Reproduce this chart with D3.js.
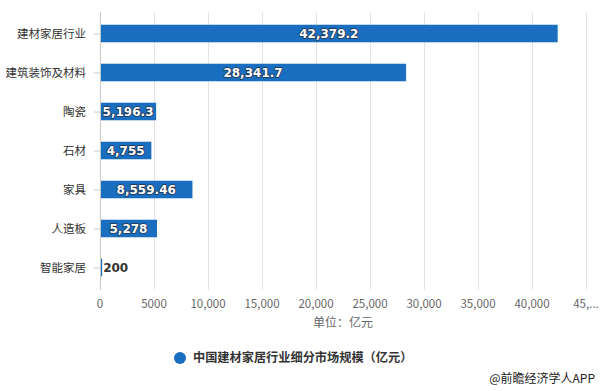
<!DOCTYPE html>
<html><head><meta charset="utf-8">
<script src="https://cdn.jsdelivr.net/npm/d3@7/dist/d3.min.js"></script>
<style>
html,body{margin:0;padding:0;background:#fff;}
svg{display:block;font-family:"Noto Sans CJK SC","Noto Sans",sans-serif;}
</style></head>
<body><svg id="c" width="600" height="391"></svg>
<script>
const categories = ["建材家居行业","建筑装饰及材料","陶瓷","石材","家具","人造板","智能家居"];
const values = [42379.2, 28341.7, 5196.3, 4755, 8559.46, 5278, 200];
const valueLabels = ["42,379.2","28,341.7","5,196.3","4,755","8,559.46","5,278","200"];
const xTicks = [0,5000,10000,15000,20000,25000,30000,35000,40000,45000];
const xTickLabels = ["0","5000","10,000","15,000","20,000","25,000","30,000","35,000","40,000","45,..."];
const seriesName = "中国建材家居行业细分市场规模（亿元）";
const unitText = "单位：亿元";
const sourceText = "@前瞻经济学人APP";

const svg = d3.select("#c");
const blue = "#1a6ebf";
const x = d3.scaleLinear().domain([0,45000]).range([100,586]);
const y = d3.scaleBand().domain(categories).range([14,287]).padding(0);
const barH = y.bandwidth()*0.45;

// gridlines
svg.append("g").selectAll("line").data(xTicks.slice(1)).join("line")
  .attr("x1",d=>x(d)+0.5).attr("x2",d=>x(d)+0.5).attr("y1",12).attr("y2",290)
  .attr("stroke","#e3e3e3").attr("stroke-width",1);

// x axis labels
svg.append("g").selectAll("text").data(xTicks).join("text")
  .attr("x",d=>x(d)).attr("y",308).attr("text-anchor","middle")
  .attr("font-size","11.5px").attr("fill","#666")
  .text((d,i)=>xTickLabels[i]);

// y axis line & ticks
svg.append("line").attr("x1",100.5).attr("x2",100.5).attr("y1",12).attr("y2",290)
  .attr("stroke","#c8c8c8");
svg.append("g").selectAll("line").data(categories).join("line")
  .attr("x1",94).attr("x2",100).attr("y1",d=>y(d)+y.bandwidth()/2+0.5).attr("y2",d=>y(d)+y.bandwidth()/2+0.5)
  .attr("stroke","#c8c8c8");
svg.append("g").selectAll("text").data(categories).join("text")
  .attr("x",86).attr("y",d=>y(d)+y.bandwidth()/2).attr("dy","0.36em")
  .attr("text-anchor","end").attr("font-size","11.5px").attr("fill","#333")
  .text(d=>d);

// bars
svg.append("g").selectAll("rect").data(values).join("rect")
  .attr("x",x(0)+1).attr("y",(d,i)=>y(categories[i])+y.bandwidth()/2-barH/2)
  .attr("width",d=>Math.max(1,x(d)-x(0)-1)).attr("height",barH).attr("fill",blue);

// data labels
svg.append("g").selectAll("text").data(values).join("text")
  .attr("y",(d,i)=>y(categories[i])+y.bandwidth()/2).attr("dy","0.36em")
  .attr("font-size","12px").attr("font-weight","bold")
  .attr("font-family","'DejaVu Sans',sans-serif")
  .attr("paint-order","stroke")
  .each(function(d,i){
    const small = x(d)-x(0) < 30;
    d3.select(this)
      .attr("x", small ? x(d)+1 : (x(0)+x(d))/2)
      .attr("text-anchor", small ? "start" : "middle")
      .attr("fill", small ? "#333" : "#fff")
      .attr("stroke", small ? "#fff" : "#22344d")
      .attr("stroke-width", small ? 2 : 1.6)
      .attr("stroke-linejoin","round")
      .text(valueLabels[i]);
  });

// unit label
svg.append("text").attr("x",343).attr("y",327).attr("text-anchor","middle")
  .attr("font-size","12px").attr("fill","#666").text(unitText);

// legend
svg.append("circle").attr("cx",180).attr("cy",358).attr("r",6).attr("fill",blue);
svg.append("text").attr("x",193).attr("y",358).attr("dy","0.36em")
  .attr("font-size","12.2px").attr("font-weight","bold").attr("fill","#333").text(seriesName);

// source
svg.append("text").attr("x",595).attr("y",379).attr("dy","0.36em").attr("text-anchor","end")
  .attr("font-size","12px").attr("fill","#222").text(sourceText);
</script></body></html>
